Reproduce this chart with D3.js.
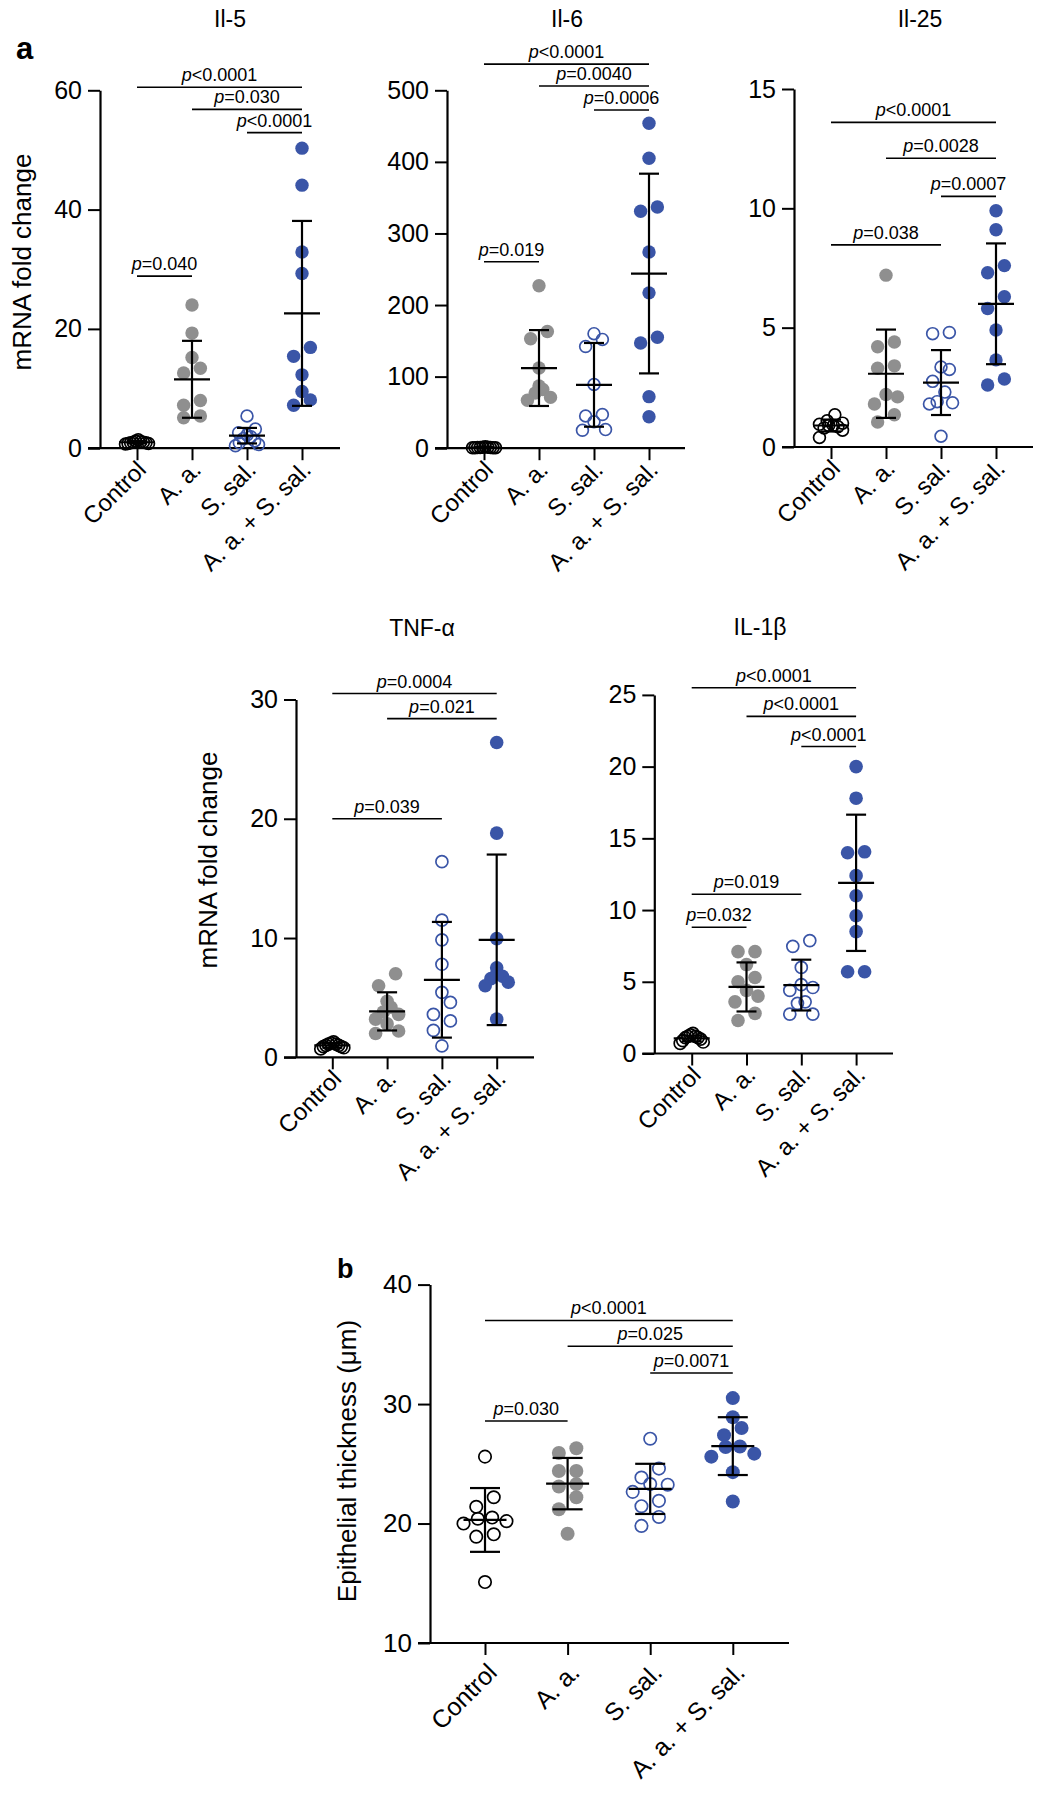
<!DOCTYPE html>
<html>
<head>
<meta charset="utf-8">
<script src="https://cdn.jsdelivr.net/npm/d3@7"></script>
<style>
  html, body { margin: 0; padding: 0; background: #fff; }
  svg { display: block; font-family: "Liberation Sans", Arial, sans-serif; }
</style>
</head>
<body>
<svg id="chart" width="1038" height="1800"></svg>
<script>
// ---------------- DATA ----------------
const categories = ["Control", "A. a.", "S. sal.", "A. a. + S. sal."];

// Il-5
const il5Values = [
  [1.4, 1.2, 1.1, 1.0, 1.0, 0.9, 0.9, 0.8, 0.8, 0.7],
  [24.0, 19.3, 15.2, 13.4, 12.6, 8.0, 7.2, 5.4, 5.1],
  [5.4, 3.2, 2.6, 2.2, 1.9, 1.6, 1.2, 0.9, 0.6, 0.4],
  [50.3, 44.1, 32.9, 29.3, 16.9, 15.4, 12.3, 9.5, 8.1, 7.2]
];
const il5Mean = [1.0, 11.55, 2.1, 22.6];
const il5SD = [0.2, 6.45, 1.3, 15.5];
const il5Ticks = [0, 20, 40, 60];
const il5Pvals = [
  { from: 0, to: 3, level: 60.5, text: "<0.0001" },
  { from: 1, to: 3, level: 56.8, text: "=0.030" },
  { from: 2, to: 3, level: 52.9, text: "<0.0001" },
  { from: 0, to: 1, level: 28.85, text: "=0.040" }
];

// Il-6
const il6Values = [
  [2.0, 1.5, 1.2, 1.0, 1.0, 0.9, 0.8, 0.8, 0.7, 0.5],
  [227, 163, 153, 112, 87, 82, 77, 71, 67],
  [160, 152, 142, 89, 47, 45, 37, 26, 25],
  [454, 405, 337, 331, 274, 217, 155, 147, 72, 44]
];
const il6Mean = [1.0, 112, 88.5, 244];
const il6SD = [0.4, 53, 58.5, 139.5];
const il6Ticks = [0, 100, 200, 300, 400, 500];
const il6Pvals = [
  { from: 0, to: 3, level: 536.5, text: "<0.0001" },
  { from: 1, to: 3, level: 506, text: "=0.0040" },
  { from: 2, to: 3, level: 472.5, text: "=0.0006" },
  { from: 0, to: 1, level: 260.5, text: "=0.019" }
];

// Il-25
const il25Values = [
  [1.35, 1.1, 1.0, 0.95, 0.9, 0.9, 0.85, 0.8, 0.7, 0.4],
  [7.2, 4.4, 4.2, 3.4, 3.3, 2.2, 2.1, 1.8, 1.35, 1.05],
  [4.8, 4.75, 3.35, 3.25, 2.75, 2.3, 1.9, 1.85, 1.8, 0.45],
  [9.9, 9.1, 7.6, 7.3, 6.3, 5.8, 4.9, 3.65, 2.85, 2.6]
];
const il25Mean = [0.9, 3.07, 2.7, 6.0];
const il25SD = [0.25, 1.85, 1.36, 2.53];
const il25Ticks = [0, 5, 10, 15];
const il25Pvals = [
  { from: 0, to: 3, level: 13.6, text: "<0.0001" },
  { from: 1, to: 3, level: 12.1, text: "=0.0028" },
  { from: 2, to: 3, level: 10.5, text: "=0.0007" },
  { from: 0, to: 2, level: 8.47, text: "=0.038" }
];

// TNF-alpha
const tnfValues = [
  [1.3, 1.2, 1.1, 1.1, 1.0, 1.0, 0.9, 0.9, 0.8, 0.7],
  [7.0, 6.0, 4.7, 4.2, 3.8, 3.6, 3.2, 2.8, 2.2, 2.0],
  [16.4, 11.5, 9.85, 7.8, 5.45, 4.6, 3.6, 3.05, 2.25, 0.95],
  [26.4, 18.8, 9.95, 7.5, 7.0, 6.8, 6.6, 6.3, 6.0, 3.2]
];
const tnfMean = [1.0, 3.85, 6.5, 9.85];
const tnfSD = [0.2, 1.6, 4.85, 7.15];
const tnfTicks = [0, 10, 20, 30];
const tnfPvals = [
  { from: 0, to: 3, level: 30.5, text: "=0.0004" },
  { from: 1, to: 3, level: 28.4, text: "=0.021" },
  { from: 0, to: 2, level: 20.0, text: "=0.039" }
];

// IL-1beta
const il1bValues = [
  [1.4, 1.3, 1.2, 1.2, 1.1, 1.1, 1.0, 0.9, 0.8, 0.7],
  [7.1, 7.1, 6.2, 5.3, 5.0, 4.4, 4.0, 3.6, 2.8, 2.3],
  [7.87, 7.47, 6.0, 4.8, 4.6, 4.4, 3.6, 3.5, 2.75, 2.75],
  [20.0, 17.8, 14.06, 14.0, 12.4, 11.0, 9.6, 8.5, 5.7, 5.7]
];
const il1bMean = [1.05, 4.64, 4.77, 11.9];
const il1bSD = [0.2, 1.71, 1.77, 4.75];
const il1bTicks = [0, 5, 10, 15, 20, 25];
const il1bPvals = [
  { from: 0, to: 3, level: 25.5, text: "<0.0001" },
  { from: 1, to: 3, level: 23.5, text: "<0.0001" },
  { from: 2, to: 3, level: 21.4, text: "<0.0001" },
  { from: 0, to: 2, level: 11.1, text: "=0.019" },
  { from: 0, to: 1, level: 8.8, text: "=0.032" }
];

// Epithelial thickness (b)
const thickValues = [
  [25.6, 22.2, 21.4, 20.5, 20.4, 20.2, 20.0, 19.1, 18.9, 15.1],
  [26.3, 25.9, 24.4, 24.4, 23.3, 23.1, 22.2, 21.2, 19.15],
  [27.1, 24.6, 23.85, 23.3, 23.25, 22.65, 21.9, 21.45, 20.55, 19.8],
  [30.5, 28.9, 28.0, 27.4, 26.45, 26.4, 25.85, 25.6, 24.3, 21.85]
];
const thickMean = [20.3, 23.34, 22.9, 26.48];
const thickSD = [2.67, 2.15, 2.1, 2.42];
const thickTicks = [10, 20, 30, 40];
const thickPvals = [
  { from: 0, to: 3, level: 37.0, text: "<0.0001" },
  { from: 1, to: 3, level: 34.84, text: "=0.025" },
  { from: 2, to: 3, level: 32.6, text: "=0.0071" },
  { from: 0, to: 1, level: 28.58, text: "=0.030" }
];

// ---------------- STYLE / LAYOUT ----------------
const GRAY = "#8f8f8f", BLUE = "#3a55a7", BLACK = "#000";
const groupStyle = [
  { fill: "none", stroke: BLACK },
  { fill: GRAY, stroke: "none" },
  { fill: "none", stroke: BLUE },
  { fill: BLUE, stroke: "none" }
];

const panels = [
  { title: "Il-5", values: il5Values, mean: il5Mean, sd: il5SD, ticks: il5Ticks, pvals: il5Pvals,
    domain: [0, 60], axisX: 100, yTop: 90.3, yBot: 448.2, cat0: 137, step: 55, xEnd: 340,
    titleX: 230, titleY: 27, r: 6.7, ylabel: { text: "mRNA fold change", x: 22, y: 262 }, labFont: 24, labOff: [10, 23], spread: 0.21 },
  { title: "Il-6", values: il6Values, mean: il6Mean, sd: il6SD, ticks: il6Ticks, pvals: il6Pvals,
    domain: [0, 500], axisX: 447, yTop: 90.3, yBot: 448.2, cat0: 484, step: 55, xEnd: 685,
    titleX: 567, titleY: 27, r: 6.7, labFont: 24, labOff: [10, 23], spread: 0.21 },
  { title: "Il-25", values: il25Values, mean: il25Mean, sd: il25SD, ticks: il25Ticks, pvals: il25Pvals,
    domain: [0, 15], axisX: 794, yTop: 89, yBot: 447, cat0: 831, step: 55, xEnd: 1033,
    titleX: 920, titleY: 27, r: 6.7, labFont: 24, labOff: [10, 23], spread: 0.21 },
  { title: "TNF-α", values: tnfValues, mean: tnfMean, sd: tnfSD, ticks: tnfTicks, pvals: tnfPvals,
    domain: [0, 30], axisX: 296, yTop: 699.5, yBot: 1057.3, cat0: 332.3, step: 54.8, xEnd: 534,
    titleX: 422, titleY: 636, r: 6.8, ylabel: { text: "mRNA fold change", x: 208, y: 860 }, labFont: 24, labOff: [10, 23], spread: 0.21 },
  { title: "IL-1β", values: il1bValues, mean: il1bMean, sd: il1bSD, ticks: il1bTicks, pvals: il1bPvals,
    domain: [0, 25], axisX: 654.3, yTop: 694.9, yBot: 1053.5, cat0: 691.7, step: 54.8, xEnd: 893,
    titleX: 760, titleY: 635, r: 6.8, labFont: 24, labOff: [10, 23], spread: 0.21 },
  { title: null, values: thickValues, mean: thickMean, sd: thickSD, ticks: thickTicks, pvals: thickPvals,
    domain: [10, 40], axisX: 430, yTop: 1284.6, yBot: 1643, cat0: 485, step: 82.6, xEnd: 789,
    r: 7, ylabel: { text: "Epithelial thickness (μm)", x: 347, y: 1461 }, labFont: 25, labOff: [13, 31],
    tickFont: 26, meanHalf: 21.5, capHalf: 15, spread: 0.26 }
];

const svg = d3.select("#chart");

// GraphPad-like scatter: bin points vertically, spread each bin symmetrically
function swarm(ys, r, maxW) {
  const d = 2 * r;
  const order = ys.map((y, i) => i).sort((a, b) => ys[b] - ys[a]); // bottom (large px) first
  const xs = new Array(ys.length).fill(0);
  let bins = [], cur = [];
  order.forEach(i => {
    if (cur.length && ys[cur[0]] - ys[i] >= d * 0.9) { bins.push(cur); cur = []; }
    cur.push(i);
  });
  if (cur.length) bins.push(cur);
  bins.forEach(b => {
    const n = b.length;
    if (n < 2) return;
    const s = Math.min(d * 1.25, (2 * maxW) / (n - 1));
    // slots interleaved so dense bins form a level blob
    const slots = [];
    if (n === 2) { slots.push(0, 1); }
    else {
      let lo = 0, hi = n - 1, t = 0;
      while (lo <= hi) { slots.push(t % 2 === 0 ? lo++ : hi--); t++; }
    }
    b.forEach((i, k) => { xs[i] = (slots[k] - (n - 1) / 2) * s; });
  });
  return xs;
}

panels.forEach(P => {
  const g = svg.append("g");
  const y = d3.scaleLinear().domain(P.domain).range([P.yBot, P.yTop]);
  const x = d3.scalePoint().domain(categories).range([P.cat0, P.cat0 + 3 * P.step]);
  const tickFont = P.tickFont || 25;

  // y axis
  const yAx = g.append("g").attr("transform", `translate(${P.axisX},0)`)
    .call(d3.axisLeft(y).tickValues(P.ticks).tickSize(12).tickSizeOuter(0).tickPadding(6));
  yAx.select(".domain").attr("stroke", BLACK).attr("stroke-width", 2.2);
  yAx.selectAll(".tick line").attr("stroke", BLACK).attr("stroke-width", 2);
  yAx.selectAll(".tick text").attr("font-size", tickFont).attr("fill", BLACK)
    .attr("font-family", "Liberation Sans, Arial, sans-serif");

  // x axis
  const xAx = g.append("g").attr("transform", `translate(0,${P.yBot})`)
    .call(d3.axisBottom(x).tickSize(12).tickSizeOuter(0));
  xAx.select(".domain").remove();
  xAx.selectAll(".tick line").attr("stroke", BLACK).attr("stroke-width", 2);
  xAx.selectAll(".tick text")
    .attr("x", 0).attr("y", 0).attr("dy", 0)
    .attr("text-anchor", "end")
    .attr("transform", `translate(${P.labOff[0]},${P.labOff[1]}) rotate(-45)`)
    .attr("font-size", P.labFont).attr("fill", BLACK)
    .attr("font-family", "Liberation Sans, Arial, sans-serif");
  g.append("line").attr("x1", P.axisX - 12).attr("x2", P.xEnd)
    .attr("y1", P.yBot).attr("y2", P.yBot).attr("stroke", BLACK).attr("stroke-width", 2.2);

  // points
  const maxW = P.step * P.spread;
  P.values.forEach((vals, gi) => {
    const ys = vals.map(v => y(v));
    const xs = swarm(ys, P.r, maxW);
    const st = groupStyle[gi];
    g.append("g").selectAll("circle").data(vals).join("circle")
      .attr("cx", (v, i) => x(categories[gi]) + xs[i])
      .attr("cy", v => y(v))
      .attr("r", st.fill === "none" ? P.r - 0.8 : P.r)
      .attr("fill", st.fill)
      .attr("stroke", st.stroke)
      .attr("stroke-width", st.fill === "none" ? 1.7 : 0);
  });

  // mean +/- SD
  const mh = P.meanHalf || 18, ch = P.capHalf || 10;
  P.mean.forEach((m, gi) => {
    const cx = x(categories[gi]);
    const eg = g.append("g").attr("stroke", BLACK).attr("stroke-width", 2.2);
    eg.append("line").attr("x1", cx).attr("x2", cx).attr("y1", y(m + P.sd[gi])).attr("y2", y(m - P.sd[gi]));
    eg.append("line").attr("x1", cx - mh).attr("x2", cx + mh).attr("y1", y(m)).attr("y2", y(m));
    eg.append("line").attr("x1", cx - ch).attr("x2", cx + ch).attr("y1", y(m + P.sd[gi])).attr("y2", y(m + P.sd[gi]));
    eg.append("line").attr("x1", cx - ch).attr("x2", cx + ch).attr("y1", y(m - P.sd[gi])).attr("y2", y(m - P.sd[gi]));
  });

  // p-value brackets
  P.pvals.forEach(p => {
    const x1 = x(categories[p.from]), x2 = x(categories[p.to]), yy = y(p.level);
    g.append("line").attr("x1", x1).attr("x2", x2).attr("y1", yy).attr("y2", yy)
      .attr("stroke", BLACK).attr("stroke-width", 1.6);
    const t = g.append("text").attr("x", (x1 + x2) / 2).attr("y", yy - 6)
      .attr("text-anchor", "middle").attr("font-size", 18).attr("fill", BLACK);
    t.append("tspan").attr("font-style", "italic").text("p");
    t.append("tspan").text(p.text);
  });

  // title
  if (P.title) {
    g.append("text").attr("x", P.titleX).attr("y", P.titleY).attr("text-anchor", "middle")
      .attr("font-size", 23).attr("fill", BLACK).text(P.title);
  }
  // y label
  if (P.ylabel) {
    g.append("text").attr("transform", `translate(${P.ylabel.x},${P.ylabel.y}) rotate(-90)`)
      .attr("text-anchor", "middle").attr("dominant-baseline", "central")
      .attr("font-size", 26).attr("fill", BLACK).text(P.ylabel.text);
  }
});

// panel letters
svg.append("text").attr("x", 16).attr("y", 59).attr("font-size", 31).attr("font-weight", "bold").text("a");
svg.append("text").attr("x", 337).attr("y", 1278).attr("font-size", 27).attr("font-weight", "bold").text("b");
</script>
</body>
</html>
